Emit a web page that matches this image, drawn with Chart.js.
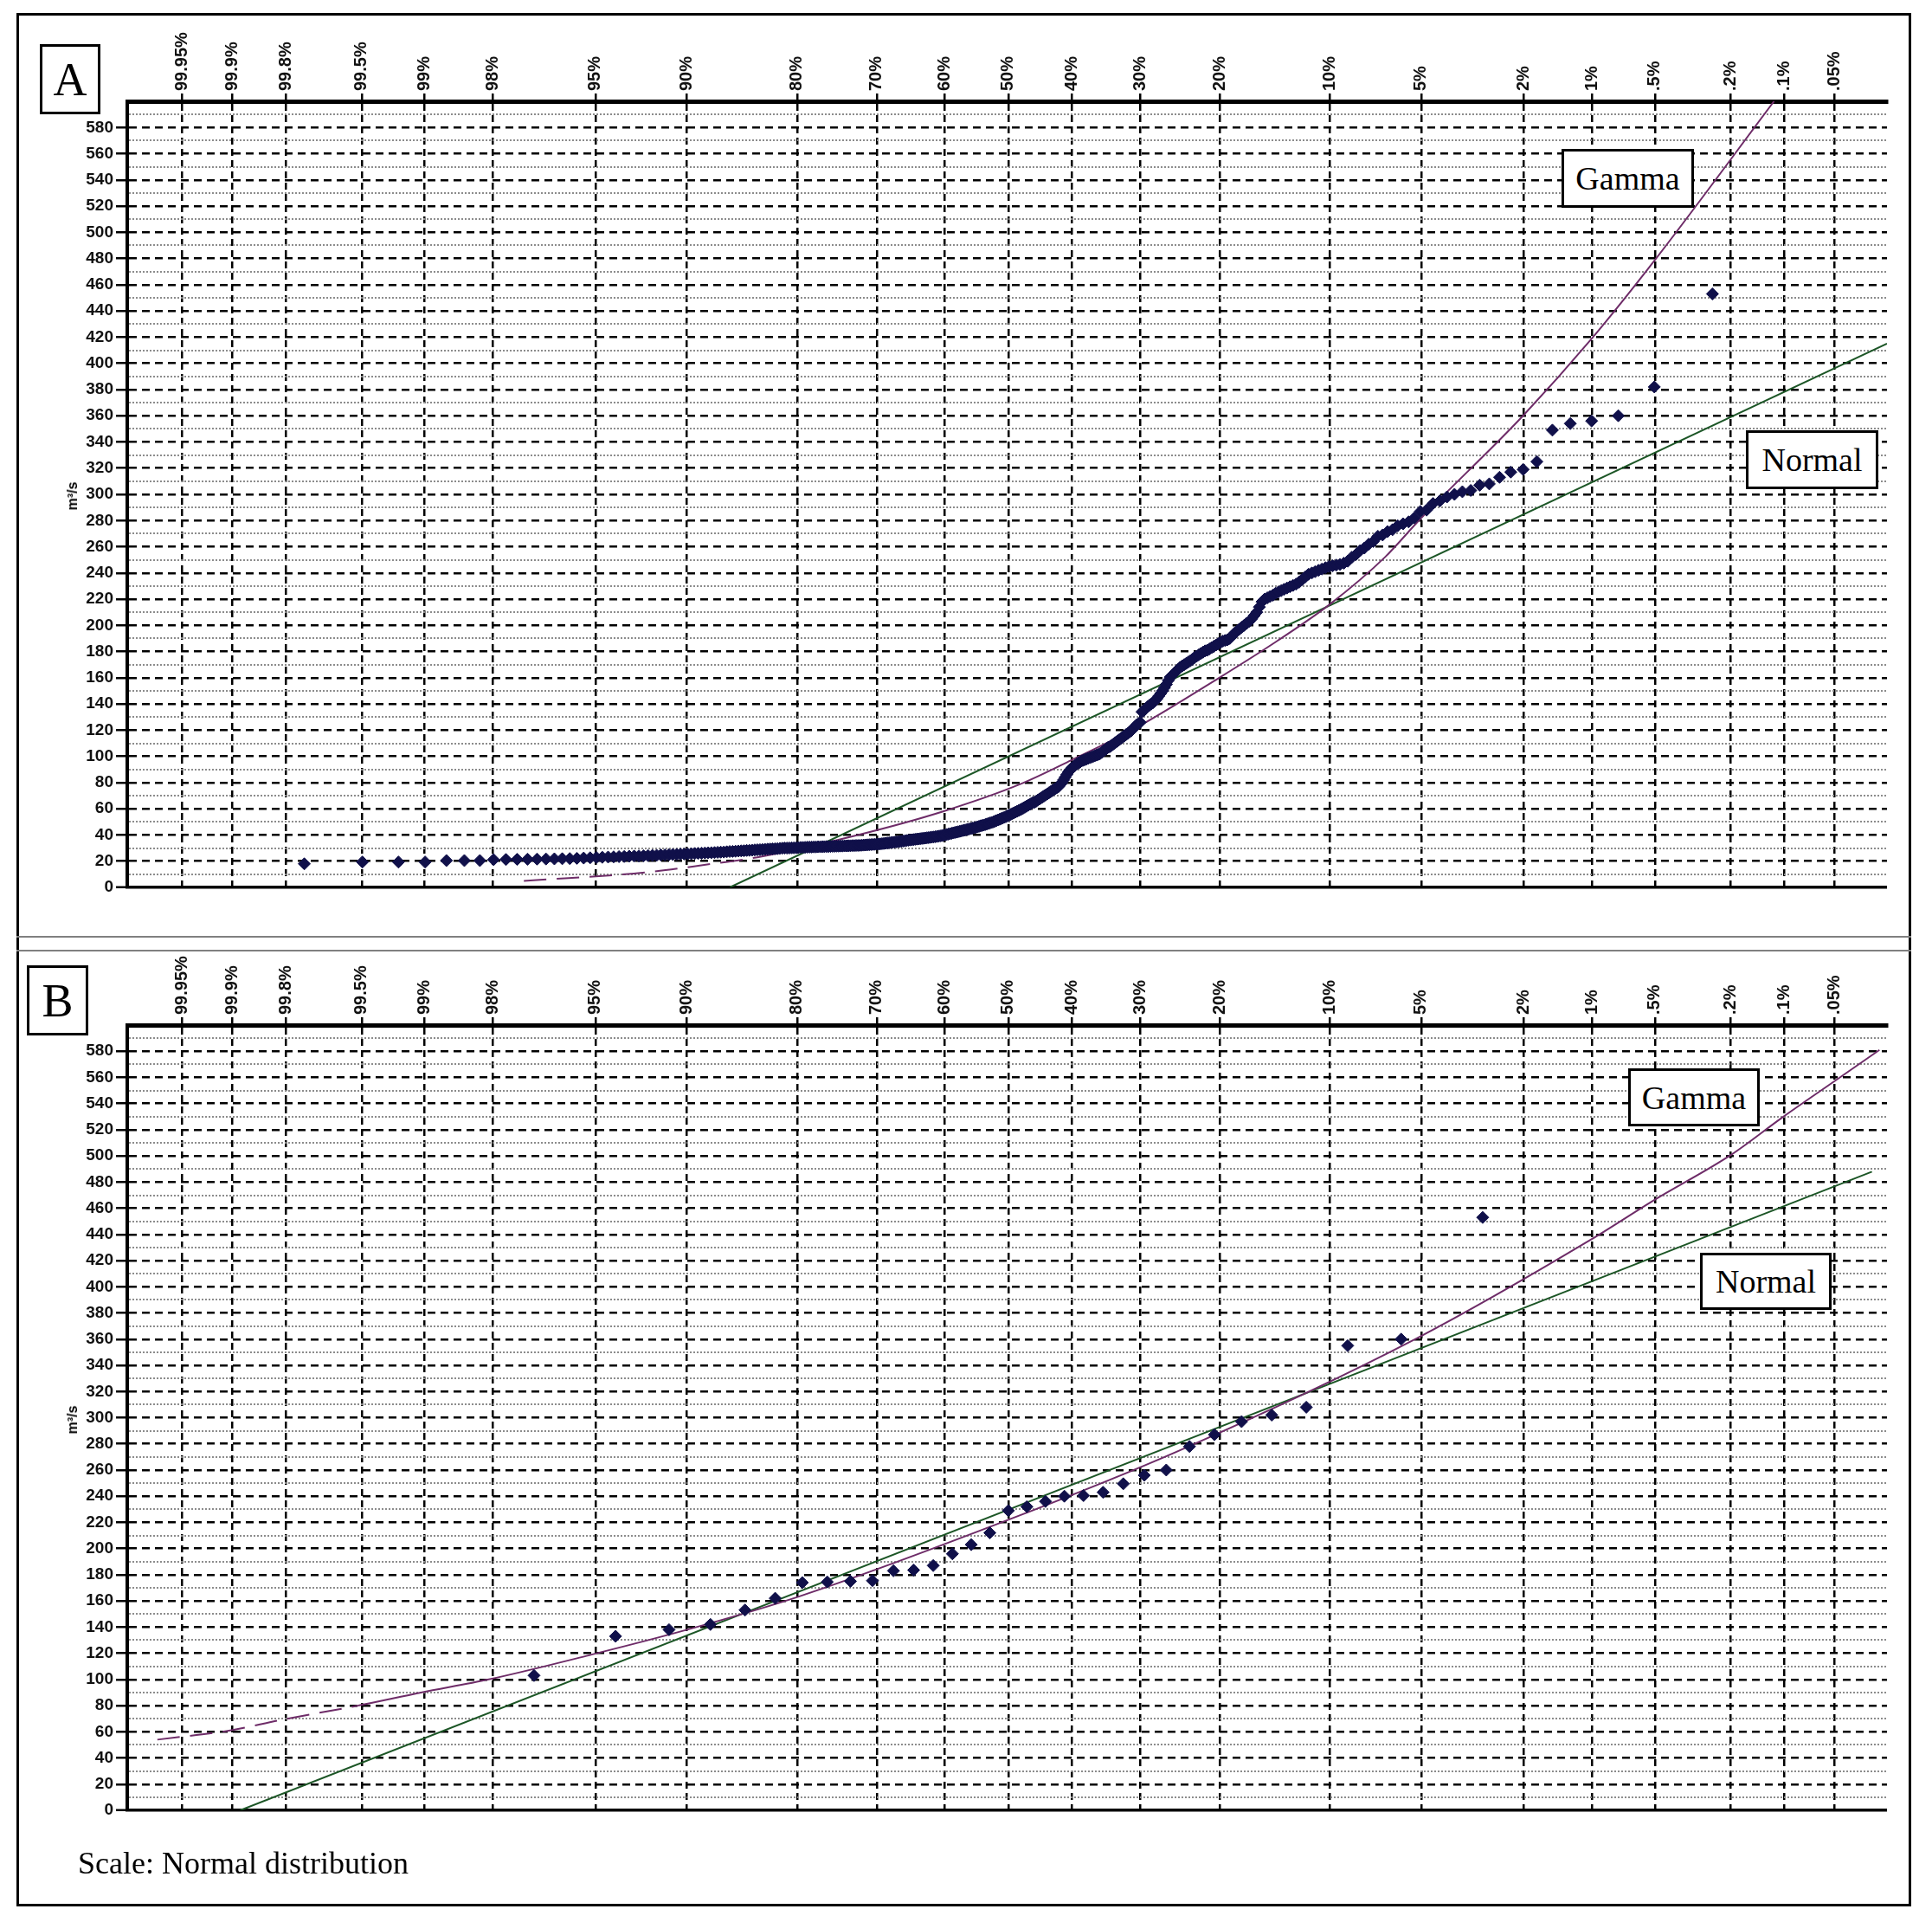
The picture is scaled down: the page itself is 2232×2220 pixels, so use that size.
<!DOCTYPE html>
<html>
<head>
<meta charset="utf-8">
<script src="https://cdn.jsdelivr.net/npm/chart.js@4.4.0/dist/chart.umd.min.js"></script>
<style>
  html, body { margin: 0; padding: 0; background: #fff; }
  body { width: 2232px; height: 2220px; position: relative; overflow: hidden; }
  .frame { position: absolute; left: 19px; top: 15px; width: 2189px; height: 2187px; border: 3px solid #000; box-sizing: border-box; }
  .sep { position: absolute; left: 19px; width: 2189px; height: 2px; background: #808080; }
  .chartwrap { position: absolute; left: 0; width: 2232px; }
  .box { position: absolute; border: 3px solid #000; background: #fff; box-sizing: border-box;
         font-family: "Liberation Serif", "Times New Roman", serif; color: #000;
         display: flex; align-items: center; justify-content: center; z-index: 5; }
  .ytitle { position: absolute; font-family: "Liberation Sans", Arial, sans-serif; font-weight: bold; font-size: 16px;
            transform: translate(-50%, -50%) rotate(-90deg); white-space: nowrap; z-index: 5; }
  .note { position: absolute; left: 90px; top: 2131px; font-family: "Liberation Serif", "Times New Roman", serif; font-size: 36px; z-index: 5; }
</style>
</head>
<body>
<div class="frame"></div>
<div class="sep" style="top:1081px"></div>
<div class="sep" style="top:1097px"></div>

<div class="chartwrap" style="top:0px;height:1080px"><canvas id="chartA"></canvas></div>
<div class="chartwrap" style="top:1100px;height:1040px"><canvas id="chartB"></canvas></div>

<div class="box" style="left:46px;top:51px;width:70px;height:81px;font-size:54px;">A</div>
<div class="box" style="left:31px;top:1115px;width:71px;height:81px;font-size:54px;">B</div>
<div class="box" style="left:1804px;top:172px;width:153px;height:68px;font-size:38px;">Gamma</div>
<div class="box" style="left:2017px;top:497px;width:153px;height:68px;font-size:38px;">Normal</div>
<div class="box" style="left:1881px;top:1234px;width:152px;height:67px;font-size:38px;">Gamma</div>
<div class="box" style="left:1964px;top:1447px;width:152px;height:66px;font-size:38px;">Normal</div>
<div class="ytitle" style="left:84px;top:573px;">m³/s</div>
<div class="ytitle" style="left:84px;top:1640px;">m³/s</div>
<div class="note">Scale: Normal distribution</div>

<script>
// ---------- DATA ----------
// Exceedance probabilities (%) shown on the normal-probability axis, and their labels
const probExceed = [99.95, 99.9, 99.8, 99.5, 99, 98, 95, 90, 80, 70, 60, 50, 40, 30, 20, 10, 5, 2, 1, 0.5, 0.2, 0.1, 0.05];
const probLabels = ['99.95%', '99.9%', '99.8%', '99.5%', '99%', '98%', '95%', '90%', '80%', '70%', '60%', '50%', '40%', '30%', '20%', '10%', '5%', '2%', '1%', '.5%', '.2%', '.1%', '.05%'];
const yTickLabels = [0, 20, 40, 60, 80, 100, 120, 140, 160, 180, 200, 220, 240, 260, 280, 300, 320, 340, 360, 380, 400, 420, 440, 460, 480, 500, 520, 540, 560, 580];

// Panel A: monthly flows (m3/s), sorted ascending
const flowsA = [
  18, 19.4, 19.4, 19.4, 20.5, 20.5, 20.5, 21.2,
  21.3, 21.4, 21.5, 21.6, 21.7, 21.8, 21.9, 22, 22.2, 22.4, 22.6, 22.8, 23,
  23.2, 23.3, 23.5, 23.6, 23.8,
  23.9, 24, 24.1, 24.3, 24.4, 24.5,
  24.7, 24.8, 25, 25.1, 25.2, 25.4,
  25.5, 25.6, 25.7, 25.9, 26, 26.1, 26.3,
  26.4, 26.5, 26.6, 26.8, 26.9, 27, 27.2, 27.4,
  27.5, 27.6, 27.8, 27.9, 28, 28.2, 28.3, 28.4, 28.6,
  28.7, 28.8, 28.9, 29, 29.2, 29.3, 29.4, 29.5, 29.6, 29.8,
  29.9, 30, 30, 30.1, 30.2, 30.2, 30.3, 30.4, 30.5, 30.5, 30.6,
  30.7, 30.8, 30.8, 30.9, 30.9, 31, 31, 31.1, 31.1, 31.2, 31.2, 31.3,
  31.4, 31.4, 31.5, 31.5, 31.6, 31.6, 31.7, 31.7, 31.8, 31.8, 31.9, 31.9, 32,
  32, 32.1, 32.2, 32.3, 32.4, 32.5, 32.6, 32.7, 32.8, 32.9, 33, 33.1, 33.2, 33.4,
  33.5, 33.7, 33.9, 34, 34.2, 34.4, 34.5, 34.7, 34.9, 35, 35.2, 35.4, 35.6, 35.8,
  36, 36.2, 36.3, 36.5, 36.7, 36.9, 37, 37.2, 37.4, 37.5, 37.7, 37.9, 38, 38.2, 38.4,
  38.5, 38.7, 38.9, 39.1, 39.3, 39.5, 39.8, 40.1, 40.4, 40.7, 41, 41.3, 41.6, 41.9, 42.2,
  42.5, 42.8, 43.1, 43.4, 43.7, 44, 44.3, 44.6, 44.9, 45.2, 45.5, 45.8, 46.2, 46.6, 47, 47.3,
  47.6, 48, 48.4, 48.8, 49.2, 49.6, 50, 50.5, 51, 51.5, 52, 52.5, 53, 53.5, 54, 54.6,
  55.2, 55.7, 56.3, 56.9, 57.5, 58.1, 58.7, 59.3, 59.9, 60.6, 61.3, 62, 62.7, 63.4, 64.1, 64.8,
  65, 65.8, 66.6, 67.4, 68.2, 69, 69.8, 70.6, 71.4, 72.2, 73, 73.8, 74.6, 75.4, 76.2,
  77, 78.5, 80, 82, 84, 86, 88, 89.5, 91, 92, 93, 94, 95, 95.5, 96.5,
  97, 97.5, 98, 98.5, 99, 99.5, 100, 100.5, 101, 101.5, 102, 103, 104, 105, 106,
  107, 107.5, 108.5, 109.5, 110.5, 111.5, 112.5, 113.5, 114.5, 115.5, 116.5, 117.5, 118.5, 119.5, 121,
  122.5, 124, 125, 126, 134, 135, 136.5, 138, 139, 140, 141, 142.5, 144,
  146, 148, 150, 152.5, 155, 158, 160.5, 162, 163.5, 165, 166.5, 168, 169,
  170, 171, 172, 173, 174, 175.5, 176.5, 177.5, 178.5, 179.5, 180.5, 181,
  182, 183, 184, 185, 186, 187, 188, 188.5, 189, 190, 192,
  194, 195.5, 197, 198.5, 200, 201.5, 203, 205, 207.5, 210,
  214, 218, 220, 221, 222, 223, 224.5, 225.5, 226.5,
  227.5, 228.5, 229.5, 230.5, 231.5, 233, 235, 237,
  239, 240, 241, 242, 243, 244, 245, 245.5, 246, 246.5,
  247.5, 249, 252, 254, 257, 259, 262, 264, 268, 269, 271.6, 273, 276, 277.5, 279, 282, 287, 288,
  293, 295, 298, 300, 302, 303, 307, 308, 313, 317, 319, 325, 349, 354, 356, 360, 382, 453
];

// Panel B: annual maximum flows (m3/s), sorted ascending
const flowsB = [103, 133, 138, 142, 153, 162, 174, 174.5, 175, 175.5, 183, 183.5, 187, 196, 203, 212, 229,
                232, 236, 240, 240.5, 243, 249.5, 256, 260, 278, 287, 297, 302, 308, 355, 360, 453];

// Fitted curves, given as (standard normal variate z, flow) pairs
const normalA_z = [-1.11, 3.50];
const normalA_q = [0, 415];
const gammaA_z = [-1.93, -1.44, -1.2, -1.0, -0.6, -0.26, 0.05, 0.25, 0.52, 0.84, 1.07, 1.28, 1.5, 1.64, 2.05, 2.32, 2.58, 3.05];
const gammaA_q = [5, 11.5, 17.5, 23, 40, 58, 79, 97, 123, 160, 188, 216, 252, 281, 360, 418, 480, 600];

const normalB_z = [-3.06, 3.44];
const normalB_q = [0, 488];
const gammaB_z = [-3.39, -3.10, -2.9, -2.59, -2.34, -2.07, -1.66, -1.28, -0.84, 0, 0.67, 1.63, 2.32, 2.57, 2.88, 3.08, 3.29, 3.47];
const gammaB_q = [54, 61, 69, 80, 90, 100, 119, 138, 163, 222, 274, 361, 436, 466, 501, 529, 557, 581];

// ---------- helpers ----------
function probit(p) {
  const a = [-3.969683028665376e+01, 2.209460984245205e+02, -2.759285104469687e+02, 1.383577518672690e+02, -3.066479806614716e+01, 2.506628277459239e+00];
  const b = [-5.447609879822406e+01, 1.615858368580409e+02, -1.556989798598866e+02, 6.680131188771972e+01, -1.328068155288572e+01];
  const c = [-7.784894002430293e-03, -3.223964580411365e-01, -2.400758277161838e+00, -2.549671492584304e+00, 4.374664141464968e+00, 2.938163982698783e+00];
  const d = [7.784695709041462e-03, 3.224671290700398e-01, 2.445134137142996e+00, 3.754408661907416e+00];
  const pl = 0.02425, ph = 1 - pl;
  let q, r;
  if (p < pl) {
    q = Math.sqrt(-2 * Math.log(p));
    return (((((c[0]*q+c[1])*q+c[2])*q+c[3])*q+c[4])*q+c[5]) / ((((d[0]*q+d[1])*q+d[2])*q+d[3])*q+1);
  }
  if (p > ph) {
    q = Math.sqrt(-2 * Math.log(1 - p));
    return -(((((c[0]*q+c[1])*q+c[2])*q+c[3])*q+c[4])*q+c[5]) / ((((d[0]*q+d[1])*q+d[2])*q+d[3])*q+1);
  }
  q = p - 0.5; r = q * q;
  return (((((a[0]*r+a[1])*r+a[2])*r+a[3])*r+a[4])*r+a[5])*q / (((((b[0]*r+b[1])*r+b[2])*r+b[3])*r+b[4])*r+1);
}
// tick position of an exceedance probability on the normal probability axis
const tickZ = probExceed.map(p => probit(1 - p / 100));
// Weibull plotting position of the i-th smallest value
function plotPoints(vals) {
  const n = vals.length;
  return vals.map((v, i) => ({ x: probit((i + 1) / (n + 1)), y: v }));
}
function pairs(zs, qs) { return zs.map((z, i) => ({ x: z, y: qs[i] })); }

const POINT_COLOR = '#10104a';
const GAMMA_COLOR = '#6e2c68';
const NORMAL_COLOR = '#1c5626';

function buildChart(id, pts, normalPts, gammaPts, dashEnd, pad) {
  const ctx = document.getElementById(id);
  return new Chart(ctx, {
    type: 'scatter',
    data: {
      datasets: [
        { label: 'data', data: pts, showLine: false, pointStyle: 'rectRot', pointRadius: 7,
          pointBackgroundColor: POINT_COLOR, pointBorderColor: POINT_COLOR, pointBorderWidth: 1 },
        { label: 'Gamma', data: gammaPts, showLine: true, borderColor: GAMMA_COLOR, borderWidth: 2,
          pointRadius: 0, cubicInterpolationMode: 'monotone', fill: false,
          segment: { borderDash: c => (c.p1.parsed.x <= dashEnd ? [26, 12] : undefined) } },
        { label: 'Normal', data: normalPts, showLine: true, borderColor: NORMAL_COLOR, borderWidth: 2,
          pointRadius: 0, fill: false }
      ]
    },
    options: {
      responsive: true, maintainAspectRatio: false, devicePixelRatio: 1, animation: false,
      layout: { padding: pad, autoPadding: false },
      plugins: { legend: { display: false }, tooltip: { enabled: false } },
      events: [],
      scales: {
        x: {
          type: 'linear', position: 'top', min: -3.51, max: 3.50,
          afterBuildTicks: s => { s.ticks = tickZ.map(v => ({ value: v })); },
          afterFit: s => { s.height = 80; s.paddingLeft = 0; s.paddingRight = 0; },
          ticks: { autoSkip: false, minRotation: 90, maxRotation: 90, padding: 3, labelOffset: 24, color: '#111',
                   font: { family: 'Liberation Sans', size: 20, weight: 'bold' },
                   callback: (v, i) => probLabels[i] },
          grid: { color: '#000', lineWidth: 2.5, drawOnChartArea: true, drawTicks: true,
                  tickLength: 9, tickColor: '#000', tickWidth: 2.5 },
          border: { display: true, color: '#000', width: 5, dash: [8, 5] }
        },
        y: {
          type: 'linear', position: 'left', min: 0, max: 600,
          afterFit: s => { s.width = 60; s.paddingTop = 0; s.paddingBottom = 0; },
          ticks: { stepSize: 10, autoSkip: false, padding: 3, color: '#111',
                   font: { family: 'Liberation Sans', size: 19, weight: 'bold' },
                   callback: v => (yTickLabels.includes(v) ? String(v) : '') },
          grid: {
            color: c => { const v = c.tick.value; if (v >= 600) return 'rgba(0,0,0,0)'; return v % 20 === 0 ? '#000' : '#8c8c8c'; },
            lineWidth: c => { const v = c.tick.value; if (v === 0) return 3.5; return v % 20 === 0 ? 2.5 : 2; },
            tickLength: 13,
            tickColor: c => (yTickLabels.includes(c.tick.value) ? '#000' : 'rgba(0,0,0,0)'),
            tickWidth: 2.5
          },
          border: { display: true, color: '#000', width: 4,
                    dash: c => { if (!c.tick) return []; const v = c.tick.value; if (v === 0) return []; return v % 20 === 0 ? [9, 6] : [2, 2]; } }
        }
      }
    }
  });
}

buildChart('chartA', plotPoints(flowsA), pairs(normalA_z, normalA_q), pairs(gammaA_z, gammaA_q), -0.95,
           { left: 87, right: 52, top: 37, bottom: 55 });
buildChart('chartB', plotPoints(flowsB), pairs(normalB_z, normalB_q), pairs(gammaB_z, gammaB_q), -2.5,
           { left: 87, right: 52, top: 4, bottom: 49 });
</script>
</body>
</html>
